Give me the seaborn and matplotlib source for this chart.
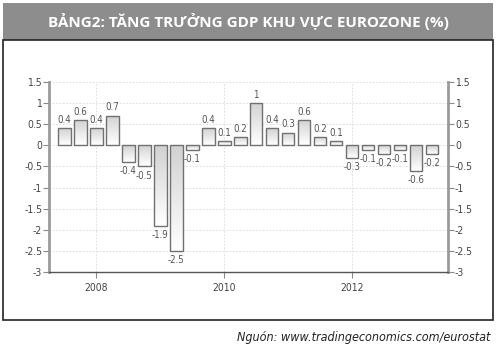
import numpy as np
import pandas as pd
import matplotlib
matplotlib.use("Agg")
import matplotlib.pyplot as plt
from matplotlib.patches import Rectangle
import seaborn as sns

# data: quarterly GDP growth, eurozone (%)
quarters = ["2007Q3", "2007Q4", "2008Q1", "2008Q2", "2008Q3", "2008Q4",
            "2009Q1", "2009Q2", "2009Q3", "2009Q4", "2010Q1", "2010Q2",
            "2010Q3", "2010Q4", "2011Q1", "2011Q2", "2011Q3", "2011Q4",
            "2012Q1", "2012Q2", "2012Q3", "2012Q4", "2013Q1", "2013Q2"]
growth = [0.4, 0.6, 0.4, 0.7, -0.4, -0.5, -1.9, -2.5, -0.1, 0.4, 0.1, 0.2,
          1.0, 0.4, 0.3, 0.6, 0.2, 0.1, -0.3, -0.1, -0.2, -0.1, -0.6, -0.2]
year_ticks = ["2008", "2010", "2012"]
y_ticks = [1.5, 1, 0.5, 0, -0.5, -1, -1.5, -2, -2.5, -3]

title = "BẢNG2: TĂNG TRƯỞNG GDP KHU VỰC EUROZONE (%)"
source = "Nguón: www.tradingeconomics.com/eurostat"

df = pd.DataFrame({"quarter": quarters, "growth": growth})

sns.set_theme(style="white")
plt.rcParams["font.family"] = ["DejaVu Sans"]
plt.rcParams["font.stretch"] = "condensed"

fig = plt.figure(figsize=(4.99, 3.52), dpi=100)
ax = fig.add_axes([49 / 499, 1 - 272 / 352, 399 / 499, 190 / 352])

sns.barplot(data=df, x="quarter", y="growth", color="#dddddd",
            edgecolor="#707070", linewidth=1.0, width=0.8, ax=ax)

# gradient fill: gray at top, white at bottom
grad = np.linspace(0.82, 1.0, 64).reshape(-1, 1)
for p in ax.patches:
    x0, y0 = p.get_x(), p.get_y()
    w, h = p.get_width(), p.get_height()
    ylo, yhi = min(y0, y0 + h), max(y0, y0 + h)
    im = ax.imshow(grad, cmap="gray", vmin=0, vmax=1, aspect="auto",
                   extent=(x0, x0 + w, ylo, yhi), origin="upper",
                   zorder=2, interpolation="bilinear")
    im.set_clip_path(p)
    p.set_facecolor("none")
    p.set_zorder(3)

# value labels
for i, v in enumerate(growth):
    lbl = f"{v:g}"
    if v >= 0:
        ax.text(i, v + 0.08, lbl, ha="center", va="bottom", fontsize=7,
                color="#555555")
    else:
        ax.text(i, v - 0.1, lbl, ha="center", va="top", fontsize=7,
                color="#555555")

ax.set_xlim(-0.95, len(quarters) - 1 + 1.0)
ax.set_ylim(-3, 1.5)
ax.set_yticks(y_ticks)
ax.set_yticklabels([f"{t:g}" for t in y_ticks])
tick_pos = [quarters.index(y + "Q1") for y in year_ticks]
ax.set_xticks(tick_pos)
ax.set_xticklabels(year_ticks)
ax.set_xlabel("")
ax.set_ylabel("")

ax.grid(True, axis="both", color="#d8d8d8", linestyle=(0, (2, 2)),
        linewidth=0.6)
ax.set_axisbelow(True)
ax.spines["top"].set_visible(False)
for s in ["left", "right"]:
    ax.spines[s].set_color("#9a9a9a")
    ax.spines[s].set_linewidth(2)
ax.spines["bottom"].set_color("#555555")
ax.spines["bottom"].set_linewidth(1)
ax.tick_params(axis="y", left=True, right=True, labelright=True,
               direction="out", length=4, width=0.8, color="#888888",
               labelsize=7.5, labelcolor="#444444", pad=1)
ax.tick_params(axis="x", bottom=True, direction="out", length=4,
               width=0.8, color="#888888", labelsize=7.5,
               labelcolor="#444444", pad=4)

# title bar and frame
fig.patches.append(Rectangle((3 / 499, 1 - 40 / 352), 490 / 499, 37 / 352,
                             transform=fig.transFigure, facecolor="#8d8d8d",
                             edgecolor="none", zorder=0))
fig.patches.append(Rectangle((3 / 499, 1 - 320 / 352), 490 / 499, 280 / 352,
                             transform=fig.transFigure, facecolor="none",
                             edgecolor="#222222", linewidth=1.2, zorder=5))
fig.text(248 / 499, 1 - 21.5 / 352, title, ha="center", va="center",
         color="white", fontsize=11, fontweight="bold",
         family=["Open Sans", "DejaVu Sans"], fontstretch="normal")
fig.text(490 / 499, 1 - 337 / 352, source, ha="right", va="center",
         color="#222222", fontsize=9, style="italic",
         family=["DejaVu Sans"], fontstretch="condensed")

fig.savefig("out.png", dpi=100)
